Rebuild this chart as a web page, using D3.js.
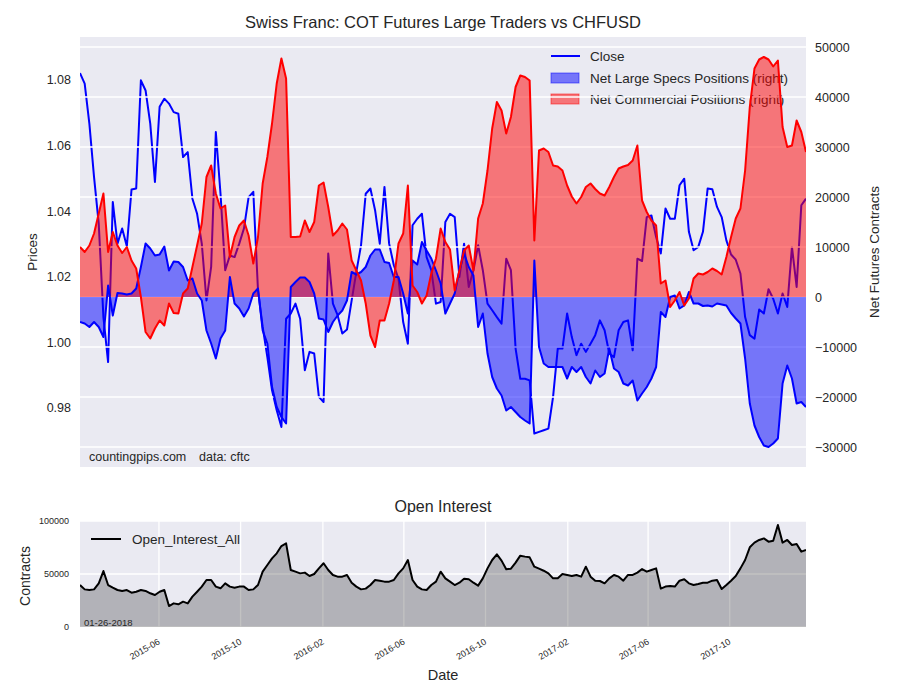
<!DOCTYPE html>
<html>
<head>
<meta charset="utf-8">
<script src="https://cdn.jsdelivr.net/npm/d3@7"></script>
<style>
  body { margin: 0; background: #ffffff; }
  svg text { font-family: "Liberation Sans", Arial, "DejaVu Sans", sans-serif; fill: #262626; }
</style>
</head>
<body>
<svg id="chart" width="900" height="700"></svg>
<script>
// ---------------- DATA (weekly COT report dates, first = 2015-02-03) ----------------
const startDate = "2015-02-03";

const closePrices = [
  1.0821,1.0789,1.0667,1.0504,1.0362,1.0077,0.9940,1.0428,1.0301,1.0347,
  1.0293,1.0466,1.0469,1.0799,1.0768,1.0667,1.0489,1.0718,1.0743,1.0728,
  1.0702,1.0697,1.0565,1.0580,1.0438,1.0392,1.0301,1.0128,1.0230,1.0641,
  1.0453,1.0220,1.0265,1.0260,1.0301,1.0347,1.0443,1.0459,1.0159,1.0047,
  0.9955,0.9854,0.9793,0.9742,1.0072,1.0088,1.0118,1.0072,0.9915,0.9971,
  0.9966,0.9834,0.9818,1.0271,1.0118,1.0083,1.0027,1.0039,1.0128,1.0215,
  1.0296,1.0453,1.0469,1.0403,1.0301,1.0474,1.0301,1.0235,1.0194,1.0062,
  0.9996,1.0357,1.0377,1.0392,1.0260,1.0220,1.0118,1.0123,1.0367,
  1.0392,1.0382,1.0199,1.0301,1.0169,1.0220,1.0296,1.0220,1.0118,1.0098,
  1.0077,1.0057,1.0255,1.0220,0.9981,0.9889,0.9889,0.9884,0.9722,0.9727,
  0.9732,0.9737,0.9834,0.9981,0.9981,1.0088,1.0016,0.9961,0.9996,0.9971,
  0.9996,1.0022,1.0067,1.0037,0.9966,0.9955,1.0037,1.0062,1.0067,0.9976,
  1.0255,1.0248,1.0382,1.0387,1.0321,1.0271,1.0408,1.0377,1.0377,1.0479,
  1.0499,1.0337,1.0281,1.0291,1.0337,1.0469,1.0467,1.0413,1.0382,1.0311,
  1.0268,1.0252,1.0210,1.0077,1.0022,1.0011,1.0100,1.0088,1.0162,1.0133,
  1.0088,1.0149,1.0108,1.0291,1.0169,1.0418,1.0438
];

const netLargeSpecs = [
  -5000,-5300,-6000,-5000,-6000,-8000,2300,-3700,800,700,
  500,700,1700,6000,10700,9700,8300,8500,10100,5300,
  7100,7000,6000,3300,3700,700,-700,-6700,-9300,-12300,
  -8300,-6700,4000,-1300,-2300,-3900,-2300,700,1700,-6700,
  -9300,-18000,-22000,-24000,-25300,2000,3000,3900,3900,3000,
  700,-4300,-4500,-7000,-5000,-3700,-2700,-700,5000,4500,
  5000,6000,8300,9500,9500,7000,6800,4000,4000,700,
  -3300,7300,6500,11000,9300,7700,5300,2700,-3300,
  -1300,700,5300,8700,6000,4300,-6000,-3300,-11300,-16000,
  -18300,-19700,-22700,-22000,-23000,-24000,-24700,-25300,7300,-10000,
  -13300,-14000,-14000,-14000,-14000,-16300,-14000,-15000,-14000,-16000,
  -17300,-14700,-16000,-15300,-10300,-14300,-15000,-17300,-17700,-16700,
  -20700,-19300,-18000,-16300,-14000,-3000,-4000,0,300,-2300,
  -1700,1000,-1300,-1300,-1800,-1700,-1900,-1300,-1500,-1700,
  -3200,-4300,-5300,-12300,-21300,-25700,-28000,-29700,-30000,-29300,
  -28300,-17300,-13700,-16300,-21300,-21000,-22000
];

const netCommercial = [
  10000,9000,10300,12700,16700,20700,9000,13000,10300,8800,
  10000,7300,5700,0,-7000,-8300,-6300,-4700,-5700,-1300,
  -3200,-3300,700,1700,6000,10300,14700,24000,26300,20700,
  17700,18300,8000,12000,14300,15300,12300,6700,12000,22700,
  28000,34700,42700,47700,43700,12000,12000,12100,15300,13000,
  15000,22300,22900,18000,12300,13300,14700,13500,7300,5300,
  3300,-1300,-7700,-10000,-4700,-4700,-1300,3300,10700,12700,
  22300,2300,1000,-1300,300,4700,7700,13700,11000,
  9500,1300,5300,9300,10300,5300,15700,18700,25300,33700,
  39000,37300,32700,36000,42000,44300,44000,43300,11300,29300,
  29700,29000,26300,26100,25300,22300,20100,18700,20000,22000,
  22700,21600,20700,20300,22000,24000,25700,26100,26400,27300,
  30300,19300,17000,15300,14300,2700,3300,-2000,-700,1000,
  -1700,-300,3700,4700,4500,5000,5700,5200,4500,8000,
  12000,15700,17700,25300,38000,45700,47500,48000,47500,46100,
  47300,34000,30000,30300,35300,33000,29000
];

const openInterest = [
  39600,35500,34900,35500,41200,52800,39600,37100,34900,34000,
  34900,32400,33300,34900,34000,31800,30200,33300,34900,19800,
  22300,21400,23900,22300,28600,33300,38100,44300,44300,38100,
  36500,41200,38100,37100,38100,38100,34900,35500,39600,52200,
  58500,64800,69500,76400,78900,53800,52200,50600,51300,48100,
  50000,55300,60100,53800,49100,47500,47500,49100,41800,38100,
  35500,36200,39600,44300,43700,42800,42800,44300,50600,55300,
  63200,44300,38100,35500,34900,39600,42800,52200,45900,
  42800,39600,41800,45600,45000,41800,39000,45900,55300,63200,
  68600,62600,54400,55000,60700,67300,66400,65700,56900,55000,
  53100,50600,45900,45900,50000,49100,48100,49100,47500,56900,
  47500,43700,43400,41200,45900,49100,47500,43700,49100,49100,
  51300,54700,52200,53800,55300,36200,38100,38700,38100,43700,
  45000,41200,39600,40600,41800,41800,43700,44300,35800,39600,
  43700,48100,55300,63200,75200,79600,82100,83600,80500,81400,
  96200,79600,82100,77400,78300,71100,72600
];

const priceTicks = [0.98, 1.00, 1.02, 1.04, 1.06, 1.08];
const contractTicks = [-30000, -20000, -10000, 0, 10000, 20000, 30000, 40000, 50000];
const oiTicks = [0, 50000, 100000];
const dateTickLabels = ["2015-06", "2015-10", "2016-02", "2016-06", "2016-10", "2017-02", "2017-06", "2017-10"];
const legendTop = ["Close", "Net Large Specs Positions (right)", "Net Commercial Positions (right)"];

// ---------------- SETUP ----------------
const svg = d3.select("#chart");
const BG = "#eaeaf2";
const parse = d3.utcParse("%Y-%m-%d");
const t0 = parse(startDate);
const dates = closePrices.map((_, i) => d3.utcDay.offset(t0, 7 * i));

const boxT = { x0: 80, x1: 806, y0: 37, y1: 467 };
const boxB = { x0: 80, x1: 806, y0: 521, y1: 627 };

const x = d3.scaleUtc().domain([dates[0], dates[dates.length - 1]]).range([boxT.x0, boxT.x1]);
const yL = d3.scaleLinear().domain([0.9620, 1.0931]).range([boxT.y1, boxT.y0]);
const yR = d3.scaleLinear().domain([-34000, 52000]).range([boxT.y1, boxT.y0]);
const yOI = d3.scaleLinear().domain([0, 100000]).range([boxB.y1, boxB.y0]);
const dateTicks = dateTickLabels.map(s => parse(s + "-01"));

const minus = s => s.replace("-", "\u2212");
const FONT = '"Liberation Sans", Arial, sans-serif';

// clip paths
const defs = svg.append("defs");
defs.append("clipPath").attr("id", "clipTop").append("rect")
  .attr("x", boxT.x0).attr("y", boxT.y0).attr("width", boxT.x1 - boxT.x0).attr("height", boxT.y1 - boxT.y0);
defs.append("clipPath").attr("id", "clipBot").append("rect")
  .attr("x", boxB.x0).attr("y", boxB.y0).attr("width", boxB.x1 - boxB.x0).attr("height", boxB.y1 - boxB.y0);

// ---------------- TOP CHART ----------------
svg.append("rect").attr("x", boxT.x0).attr("y", boxT.y0)
  .attr("width", boxT.x1 - boxT.x0).attr("height", boxT.y1 - boxT.y0).attr("fill", BG);

svg.append("text").attr("x", 443).attr("y", 28).attr("text-anchor", "middle")
  .style("font-size", "16.5px").text("Swiss Franc: COT Futures Large Traders vs CHFUSD");

const gTop = svg.append("g").attr("clip-path", "url(#clipTop)");

// price line (primary axis, drawn beneath the secondary-axis layers)
const closeLine = d3.line().x((d, i) => x(dates[i])).y(d => yL(d));
gTop.append("path").datum(closePrices).attr("d", closeLine)
  .attr("fill", "none").attr("stroke", "#0000ff").attr("stroke-width", 2).attr("stroke-linejoin", "round");

// legend (belongs to primary axis)
const lg = svg.append("g");
lg.append("line").attr("x1", 551).attr("x2", 580).attr("y1", 56).attr("y2", 56)
  .attr("stroke", "#0000ff").attr("stroke-width", 2);
lg.append("rect").attr("x", 551).attr("y", 73).attr("width", 28).attr("height", 10)
  .attr("fill", "rgba(0,0,255,0.5)").attr("stroke", "rgba(0,0,255,0.5)");
lg.append("rect").attr("x", 551).attr("y", 94).attr("width", 28).attr("height", 10)
  .attr("fill", "rgba(255,0,0,0.5)").attr("stroke", "rgba(255,0,0,0.5)");
[56, 78, 99].forEach((yy, i) => {
  lg.append("text").attr("x", 590).attr("y", yy + 5).style("font-size", "13.5px").text(legendTop[i]);
});

// secondary-axis grid
svg.append("g").selectAll("line").data(contractTicks).join("line")
  .attr("x1", boxT.x0).attr("x2", boxT.x1)
  .attr("y1", d => yR(d)).attr("y2", d => yR(d))
  .attr("stroke", "#ffffff").attr("stroke-width", 1.3);

const gTop2 = svg.append("g").attr("clip-path", "url(#clipTop)");
const areaPos = arr => d3.area().x((d, i) => x(dates[i])).y0(yR(0)).y1(d => yR(d))(arr);
const linePos = arr => d3.line().x((d, i) => x(dates[i])).y(d => yR(d))(arr);

gTop2.append("path").attr("d", areaPos(netLargeSpecs)).attr("fill", "rgba(0,0,255,0.5)");
gTop2.append("path").attr("d", areaPos(netCommercial)).attr("fill", "rgba(255,0,0,0.5)");
gTop2.append("path").attr("d", linePos(netLargeSpecs)).attr("fill", "none")
  .attr("stroke", "#0000ff").attr("stroke-width", 2).attr("stroke-linejoin", "round");
gTop2.append("path").attr("d", linePos(netCommercial)).attr("fill", "none")
  .attr("stroke", "#ff0000").attr("stroke-width", 2).attr("stroke-linejoin", "round");

// axes
const axL = svg.append("g").attr("transform", `translate(${boxT.x0},0)`)
  .call(d3.axisLeft(yL).tickValues(priceTicks).tickFormat(d3.format(".2f")).tickSize(0).tickPadding(9));
const axR = svg.append("g").attr("transform", `translate(${boxT.x1},0)`)
  .call(d3.axisRight(yR).tickValues(contractTicks).tickFormat(d => minus(String(d))).tickSize(0).tickPadding(9));
[axL, axR].forEach(a => {
  a.select(".domain").remove();
  a.selectAll("text").style("font-size", "12.5px").attr("fill", "#262626").style("font-family", FONT);
});

svg.append("text").attr("transform", "translate(37,252) rotate(-90)").attr("text-anchor", "middle")
  .style("font-size", "13.5px").text("Prices");
svg.append("text").attr("transform", "translate(879,252) rotate(-90)").attr("text-anchor", "middle")
  .style("font-size", "13.5px").text("Net Futures Contracts");

svg.append("text").attr("x", 89).attr("y", 461).style("font-size", "12.5px").text("countingpips.com");
svg.append("text").attr("x", 199).attr("y", 461).style("font-size", "12.5px").text("data: cftc");

// ---------------- BOTTOM CHART ----------------
svg.append("rect").attr("x", boxB.x0).attr("y", boxB.y0)
  .attr("width", boxB.x1 - boxB.x0).attr("height", boxB.y1 - boxB.y0).attr("fill", BG);

svg.append("text").attr("x", 443).attr("y", 512).attr("text-anchor", "middle")
  .style("font-size", "16px").text("Open Interest");

const gGrid = svg.append("g");
gGrid.selectAll("line.h").data(oiTicks).join("line").attr("class", "h")
  .attr("x1", boxB.x0).attr("x2", boxB.x1).attr("y1", d => yOI(d)).attr("y2", d => yOI(d))
  .attr("stroke", "#ffffff").attr("stroke-width", 1.3);
gGrid.selectAll("line.v").data(dateTicks).join("line").attr("class", "v")
  .attr("x1", d => x(d)).attr("x2", d => x(d)).attr("y1", boxB.y0).attr("y2", boxB.y1)
  .attr("stroke", "#ffffff").attr("stroke-width", 1.3);

const gBot = svg.append("g").attr("clip-path", "url(#clipBot)");
gBot.append("path").datum(openInterest)
  .attr("d", d3.area().x((d, i) => x(dates[i])).y0(yOI(0)).y1(d => yOI(d)))
  .attr("fill", "rgba(0,0,0,0.24)");
gBot.append("path").datum(openInterest)
  .attr("d", d3.line().x((d, i) => x(dates[i])).y(d => yOI(d)))
  .attr("fill", "none").attr("stroke", "#000000").attr("stroke-width", 2).attr("stroke-linejoin", "round");

const axOI = svg.append("g").attr("transform", `translate(${boxB.x0},0)`)
  .call(d3.axisLeft(yOI).tickValues(oiTicks).tickFormat(d3.format("d")).tickSize(0).tickPadding(11));
axOI.select(".domain").remove();
axOI.selectAll("text").style("font-size", "9px").attr("fill", "#262626").style("font-family", FONT);

const axX = svg.append("g").attr("transform", `translate(0,${boxB.y1})`)
  .call(d3.axisBottom(x).tickValues(dateTicks).tickFormat(d3.utcFormat("%Y-%m")).tickSize(0).tickPadding(0));
axX.select(".domain").remove();
axX.selectAll("text")
  .style("font-size", "9px").attr("fill", "#262626").style("font-family", FONT)
  .attr("text-anchor", "end").attr("dy", "0.7em").attr("y", 0)
  .attr("transform", "translate(-2,11) rotate(-30)");

svg.append("text").attr("x", 443).attr("y", 680).attr("text-anchor", "middle")
  .style("font-size", "14.5px").text("Date");
svg.append("text").attr("transform", "translate(30,576) rotate(-90)").attr("text-anchor", "middle")
  .style("font-size", "14px").text("Contracts");

svg.append("line").attr("x1", 91).attr("x2", 121).attr("y1", 539).attr("y2", 539)
  .attr("stroke", "#000000").attr("stroke-width", 2);
svg.append("text").attr("x", 132).attr("y", 544).style("font-size", "13.5px").text("Open_Interest_All");
svg.append("text").attr("x", 84).attr("y", 626).style("font-size", "9.5px").text("01-26-2018");
</script>
</body>
</html>
